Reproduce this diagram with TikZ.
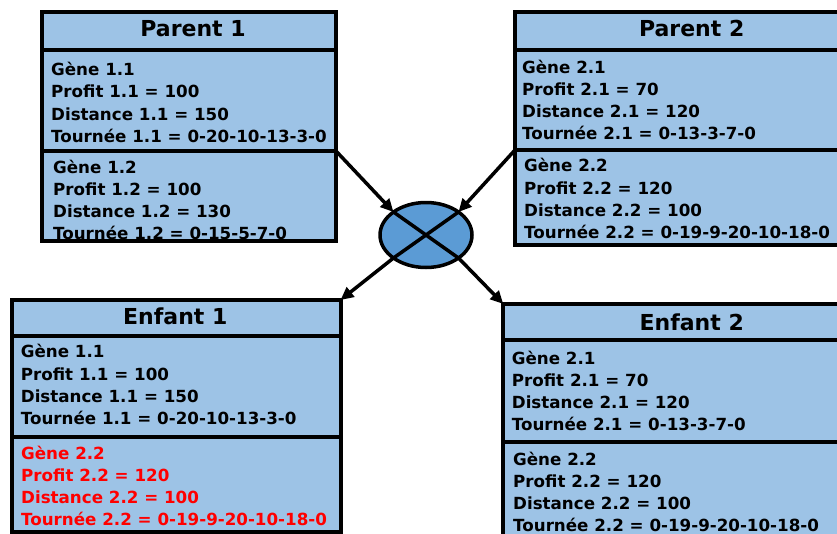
\documentclass[tikz,border=0pt]{standalone}
\usepackage{fontspec}
\setmainfont{DejaVu Sans}
\usetikzlibrary{shapes.geometric,arrows.meta,calc}
\definecolor{boxblue}{HTML}{9DC3E6}
\definecolor{ellblue}{HTML}{5B9BD5}
\definecolor{genred}{HTML}{FF0000}
\begin{document}
\begin{tikzpicture}[x=1pt,y=-1pt,
  cell/.style={draw=black, line width=4pt, fill=boxblue, rectangle, inner sep=0pt, outer sep=0pt, anchor=north west},
  txt/.style={anchor=base west, inner sep=0pt, font=\fontsize{16.7}{20}\selectfont\bfseries},
  ttl/.style={anchor=base, inner sep=0pt, font=\fontsize{22}{26}\selectfont\bfseries},
  arr/.style={line width=3.5pt, -{Triangle[length=13pt,width=12pt]}},
  crossline/.style={line width=3.5pt}]
\useasboundingbox (0,0) rectangle (837,533);
\clip (0,0) rectangle (837,533);

% Parent 1
\node[cell, minimum width=294pt, minimum height=38pt] (p1t) at (41.5,11.5) {};
\node[cell, minimum width=294pt, minimum height=101pt] (p1a) at (p1t.south west) {};
\node[cell, minimum width=294pt, minimum height=90pt] (p1b) at (p1a.south west) {};
\node[ttl] (p1title) at (193,36) {Parent 1};
\foreach \t [count=\i from 0] in {Gène 1.1, Profit 1.1 = 100, Distance 1.1 = 150, Tournée 1.1 = 0-20-10-13-3-0}
  \node[txt] (p1a-\i) at (51,{75.5+22.3*\i}) {\t};
\foreach \t [count=\i from 0] in {Gène 1.2, Profit 1.2 = 100, Distance 1.2 = 130, Tournée 1.2 = 0-15-5-7-0}
  \node[txt] (p1b-\i) at (53,{173.3+21.9*\i}) {\t};

% Parent 2
\node[cell, minimum width=360pt, minimum height=38pt] (p2t) at (515,11.5) {};
\node[cell, minimum width=360pt, minimum height=100.5pt] (p2a) at (p2t.south west) {};
\node[cell, minimum width=360pt, minimum height=95pt] (p2b) at (p2a.south west) {};
\node[ttl] (p2title) at (691.7,36) {Parent 2};
\foreach \t [count=\i from 0] in {Gène 2.1, Profit 2.1 = 70, Distance 2.1 = 120, Tournée 2.1 = 0-13-3-7-0}
  \node[txt] (p2a-\i) at (522,{73.3+22*\i}) {\t};
\foreach \t [count=\i from 0] in {Gène 2.2, Profit 2.2 = 120, Distance 2.2 = 100, Tournée 2.2 = 0-19-9-20-10-18-0}
  \node[txt] (p2b-\i) at (524,{171.7+22.3*\i}) {\t};

% Enfant 1
\node[cell, minimum width=329pt, minimum height=35.5pt] (e1t) at (11.5,300) {};
\node[cell, minimum width=329pt, minimum height=101.5pt] (e1a) at (e1t.south west) {};
\node[cell, minimum width=329pt, minimum height=94.5pt] (e1b) at (e1a.south west) {};
\node[ttl] (e1title) at (175.3,324) {Enfant 1};
\foreach \t [count=\i from 0] in {Gène 1.1, Profit 1.1 = 100, Distance 1.1 = 150, Tournée 1.1 = 0-20-10-13-3-0}
  \node[txt] (e1a-\i) at (20.7,{357.7+22.4*\i}) {\t};
\foreach \t [count=\i from 0] in {Gène 2.2, Profit 2.2 = 120, Distance 2.2 = 100, Tournée 2.2 = 0-19-9-20-10-18-0}
  \node[txt, text=genred] (e1b-\i) at (21,{459+22.2*\i}) {\t};

% Enfant 2
\node[cell, minimum width=360pt, minimum height=36pt] (e2t) at (503.3,304) {};
\node[cell, minimum width=360pt, minimum height=102pt] (e2a) at (e2t.south west) {};
\node[cell, minimum width=360pt, minimum height=118pt] (e2b) at (e2a.south west) {};
\node[ttl] (e2title) at (691.7,330) {Enfant 2};
\foreach \t [count=\i from 0] in {Gène 2.1, Profit 2.1 = 70, Distance 2.1 = 120, Tournée 2.1 = 0-13-3-7-0}
  \node[txt] (e2a-\i) at (511.7,{364.3+22.2*\i}) {\t};
\foreach \t [count=\i from 0] in {Gène 2.2, Profit 2.2 = 120, Distance 2.2 = 100, Tournée 2.2 = 0-19-9-20-10-18-0}
  \node[txt] (e2b-\i) at (513,{465.7+22*\i}) {\t};

% Crossover operator
\node[ellipse, draw=black, line width=3.5pt, fill=ellblue, minimum width=92pt, minimum height=65pt, inner sep=0pt] (x) at (426,235) {};
\coordinate (xul) at ($(x.center)+(-32.5,-23)$);
\coordinate (xur) at ($(x.center)+(32.5,-23)$);
\coordinate (xll) at ($(x.center)+(-32.5,23)$);
\coordinate (xlr) at ($(x.center)+(32.5,23)$);
\draw[crossline] (xul) -- (xlr);
\draw[crossline] (xur) -- (xll);

% Arrows
\draw[arr] (p1a.south east) -- (xul);
\draw[arr] (p2a.south west) -- (xur);
\draw[arr] (xll) -- (e1t.north east);
\draw[arr] (xlr) -- (e2t.north west);
\end{tikzpicture}
\end{document}
